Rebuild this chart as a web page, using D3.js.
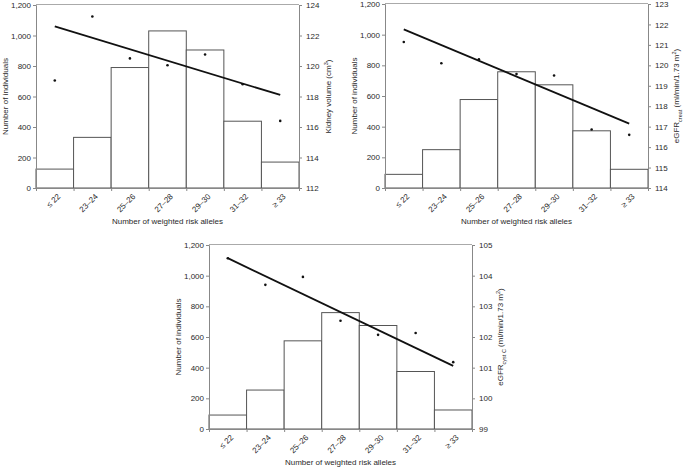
<!DOCTYPE html>
<html><head><meta charset="utf-8">
<script src="https://cdn.jsdelivr.net/npm/d3@7"></script>
<style>
body{margin:0;background:#fff;}
svg{display:block;font-family:"Liberation Sans",Arial,sans-serif;}
</style></head>
<body>
<svg id="c" width="685" height="469"></svg>
<script>
const categories = ["\u2264 22","23\u201324","25\u201326","27\u201328","29\u201330","31\u201332","\u2265 33"];
const countKidney = [124, 332, 790, 1030, 905, 438, 170];
const kidneyVolume = [119.05, 123.25, 120.5, 120.05, 120.75, 118.8, 116.4];
const kidneyTrend = [122.6, 118.1];
const countCreat = [89, 250, 577, 758, 673, 373, 122];
const egfrCreat = [121.14, 120.1, 120.3, 119.57, 119.5, 116.86, 116.6];
const creatTrend = [121.76, 117.15];
const countCyst = [91, 254, 575, 759, 675, 375, 124];
const egfrCyst = [104.57, 103.7, 103.96, 102.53, 102.07, 102.13, 101.18];
const cystTrend = [104.57, 101.06];
const leftTicks = [0, 200, 400, 600, 800, 1000, 1200];
const kidneyTicks = [112, 114, 116, 118, 120, 122, 124];
const creatTicks = [114, 115, 116, 117, 118, 119, 120, 121, 122, 123];
const cystTicks = [99, 100, 101, 102, 103, 104, 105];

const svg = d3.select("#c");
const fmt = d3.format(",");
const TXT = "#2a2a2a";

function panel(o){
  const g = svg.append("g");
  const x = d3.scaleBand().domain(categories).range([o.left, o.right]).padding(0);
  const y = d3.scaleLinear().domain([0,1200]).range([o.bottom, o.top]);
  const y2 = d3.scaleLinear().domain(o.rdomain).range([o.bottom, o.top]);
  g.selectAll("rect.bar").data(o.counts).join("rect")
    .attr("x", (d,i)=>x(categories[i])).attr("width", x.bandwidth())
    .attr("y", d=>y(d)).attr("height", d=>o.bottom - y(d))
    .attr("fill","#fff").attr("stroke","#555").attr("stroke-width",1);
  g.append("line").attr("x1",o.left).attr("x2",o.right).attr("y1",o.top-0.5).attr("y2",o.top-0.5)
    .attr("stroke","#aaa").attr("stroke-width",1);
  const la = g.append("g").attr("transform",`translate(${o.left},0)`)
    .call(d3.axisLeft(y).tickValues(leftTicks).tickFormat(fmt).tickSize(3).tickPadding(2));
  const ra = g.append("g").attr("transform",`translate(${o.right},0)`)
    .call(d3.axisRight(y2).tickValues(o.rticks).tickFormat(d3.format("d")).tickSize(3).tickPadding(4));
  const xb = d3.scaleLinear().domain([0,7]).range([o.left,o.right]);
  const ba = g.append("g").attr("transform",`translate(0,${o.bottom})`)
    .call(d3.axisBottom(xb).tickValues(d3.range(0,8)).tickFormat("").tickSize(3));
  [la,ra,ba].forEach(a=>{
    a.select(".domain").attr("stroke","#888");
    a.selectAll(".tick line").attr("stroke","#888");
    a.selectAll("text").attr("fill",TXT).style("font-size","8px").style("font-family","Liberation Sans, Arial, sans-serif");
  });
  g.selectAll("text.xl").data(categories).join("text")
    .attr("transform", d=>`translate(${x(d)+x.bandwidth()/2+4},${o.bottom+7}) rotate(-45)`)
    .attr("text-anchor","end").attr("dy","0.35em")
    .attr("fill",TXT).style("font-size","8px").text(d=>d);
  g.append("text").attr("x",(o.left+o.right)/2).attr("y",o.bottom+36)
    .attr("text-anchor","middle").attr("fill",TXT).style("font-size","8px")
    .text("Number of weighted risk alleles");
  g.append("text").attr("transform",`translate(${o.left-28},${(o.top+o.bottom)/2}) rotate(-90)`)
    .attr("text-anchor","middle").attr("fill",TXT).style("font-size","8px")
    .text("Number of individuals");
  const rt = g.append("text").attr("transform",`translate(${o.right+o.rtitleX},${(o.top+o.bottom)/2}) rotate(-90)`)
    .attr("text-anchor","middle").attr("fill",TXT).style("font-size","8px");
  o.rtitle(rt);
  const cx = i => x(categories[i]) + x.bandwidth()/2;
  g.append("line").attr("x1",cx(0)).attr("x2",cx(6))
    .attr("y1",y2(o.trend[0])).attr("y2",y2(o.trend[1]))
    .attr("stroke","#111").attr("stroke-width",1.8);
  g.selectAll("circle.pt").data(o.points).join("circle")
    .attr("cx",(d,i)=>cx(i)).attr("cy",d=>y2(d)).attr("r",1.3).attr("fill","#111");
}

panel({left:36,right:299,top:5,bottom:188,counts:countKidney,points:kidneyVolume,trend:kidneyTrend,
  rdomain:[112,124],rticks:kidneyTicks,rtitleX:32,
  rtitle:t=>{t.append("tspan").text("Kidney volume (cm");t.append("tspan").attr("baseline-shift","super").style("font-size","5.5px").text("3");t.append("tspan").text(")");}});
panel({left:385,right:648,top:4,bottom:188,counts:countCreat,points:egfrCreat,trend:creatTrend,
  rdomain:[114,123],rticks:creatTicks,rtitleX:31,
  rtitle:t=>{t.append("tspan").text("eGFR");t.append("tspan").attr("baseline-shift","sub").style("font-size","5.5px").text("creat");t.append("tspan").text(" (ml/min/1.73 m");t.append("tspan").attr("baseline-shift","super").style("font-size","5.5px").text("2");t.append("tspan").text(")");}});
panel({left:209,right:472,top:245,bottom:429,counts:countCyst,points:egfrCyst,trend:cystTrend,
  rdomain:[99,105],rticks:cystTicks,rtitleX:31,
  rtitle:t=>{t.append("tspan").text("eGFR");t.append("tspan").attr("baseline-shift","sub").style("font-size","5.5px").text("cyst C");t.append("tspan").text(" (ml/min/1.73 m");t.append("tspan").attr("baseline-shift","super").style("font-size","5.5px").text("2");t.append("tspan").text(")");}});
</script>
</body></html>
